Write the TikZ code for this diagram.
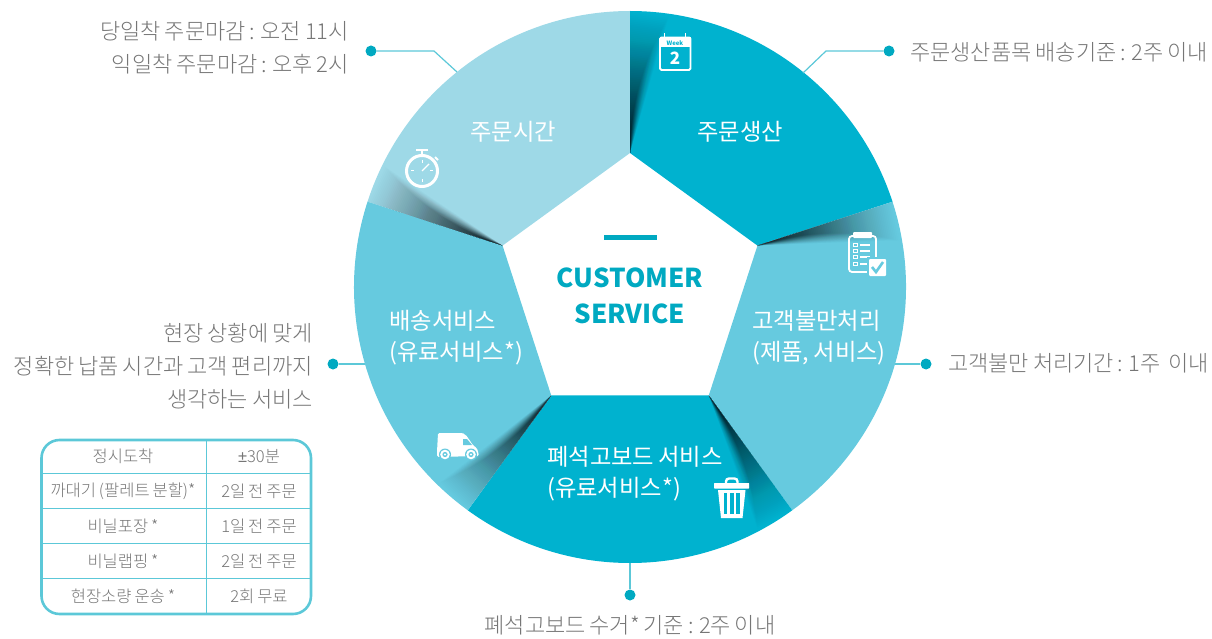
\documentclass[tikz,border=0pt]{standalone}
\usepackage{fontspec}
\usepackage{xcolor}
\usetikzlibrary{calc}
\newfontfamily\kr[WordSpace=0.8]{Noto Sans CJK KR}
\newfontfamily\krthin[WordSpace=0.8]{Noto Sans CJK KR Light}
\newfontfamily\plusfont{Liberation Sans}
\definecolor{tealdark}{HTML}{00B2CF}
\definecolor{tealmid}{HTML}{66CADF}
\definecolor{teallight}{HTML}{9ED9E7}
\definecolor{tealline}{HTML}{5CC8D8}
\definecolor{tealdot}{HTML}{00A9C1}
\definecolor{txtgray}{HTML}{767676}
\definecolor{shadecol}{HTML}{1A2327}
\newcommand{\wedgeseg}[3]{\fill[#3] ([shift={(#1:134)}]o) -- ([shift={(#1:276)}]o) arc[start angle=#1,end angle=#2,radius=276] -- ([shift={(#2:134)}]o) -- cycle;}
\newcommand{\fanshade}[1]{\foreach \t [evaluate=\t as \op using {.045*(1-\t/92)}] in {1,...,80}{\fill[shadecol,opacity=\op] ([shift={(#1:134)}]o) -- +(#1:\t*1.78) -- +(#1+\t*.2:\t*1.78) -- cycle;}}
\tikzset{
  lead/.style={tealline,line width=1.2pt},
  leaddot/.style={circle,fill=tealdot,minimum size=11pt,inner sep=0pt},
  sidetxt/.style={font=\krthin\fontsize{22}{33}\selectfont,text=txtgray,inner sep=0pt},
  segtxt/.style={font=\kr\fontsize{23.3}{30.5}\selectfont,text=white,inner sep=0pt,align=left},
  celltxt/.style={font=\krthin\fontsize{16.5}{18}\selectfont,text=txtgray,inner sep=0pt},
  icon/.style={white,line width=2.4pt},
}
\begin{document}
\begin{tikzpicture}[x=1pt,y=-1pt]
\useasboundingbox (0,0) rectangle (1212,639);
\coordinate (o) at (630,287);
%segments
\wedgeseg{-162}{-90}{teallight}
\wedgeseg{-90}{-18}{tealdark}
\wedgeseg{-18}{54}{tealmid}
\wedgeseg{54}{126}{tealdark}
\wedgeseg{126}{198}{tealmid}
%shadows
\fanshade{-162}
\fanshade{-90}
\fanshade{-18}
\fanshade{54}
\fanshade{126}
%centre
\fill[tealdot] (604,235) rectangle (657,240);
\node[font=\kr\bfseries\fontsize{26}{36}\selectfont,text=tealdot,align=center,inner sep=0pt] (title) at (630,295.5) {CUSTOMER\\SERVICE};
%segment labels
\node[segtxt] (timeseg) at (513,132) {주문시간};
\node[segtxt] (makeseg) at (740,132) {주문생산};
\node[segtxt,anchor=west] (shipseg) at (389,337.5) {배송서비스\\(유료서비스*)};
\node[segtxt,anchor=west] (claimseg) at (752,337.5) {고객불만처리\\(제품, 서비스)};
\node[segtxt,anchor=west] (wasteseg) at (547,473.5) {폐석고보드 서비스\\(유료서비스*)};
%side labels
\node[sidetxt,anchor=east,align=right] (timetxt) at (349,48) {당일착 주문마감 : 오전 11시\\익일착 주문마감 : 오후 2시};
\node[sidetxt,anchor=west] (maketxt) at (910,52) {주문생산품목 배송기준 : 2주 이내};
\node[sidetxt,anchor=west] (claimtxt) at (948,363) {고객불만 처리기간 : 1주~ 이내};
\node[sidetxt] (wastetxt) at (630,625) {폐석고보드 수거* 기준 : 2주 이내};
\node[sidetxt,anchor=east,align=right] (shiptxt) at (313,366.5) {현장 상황에 맞게\\정확한 납품 시간과 고객 편리까지\\생각하는 서비스};
%leader lines
\node[leaddot] (timedot) at (371,51) {};
\node[leaddot] (makedot) at (889,51) {};
\node[leaddot] (claimdot) at (926,364) {};
\node[leaddot] (wastedot) at (630,595) {};
\node[leaddot] (shipdot) at (333,364) {};
\coordinate (timeend) at (457,72);
\coordinate (makeend) at (803,73);
\coordinate (claimend) at (895,364);
\coordinate (wasteend) at (630,563);
\coordinate (shipend) at (365,364);
\draw[lead] (timedot) -- (434,51) -- (timeend);
\draw[lead] (makedot) -- (826,51) -- (makeend);
\draw[lead] (claimdot) -- (claimend);
\draw[lead] (wastedot) -- (wasteend);
\draw[lead] (shipdot) -- (shipend);
%table
\draw[tealline,line width=1pt] (206,440) -- (206,614);
\foreach \y in {473,508,543,578}
  \draw[tealline,line width=1pt] (41,\y) -- (311,\y);
\draw[tealline,line width=2.6pt,rounded corners=18pt] (41.5,440) rectangle (311,614);
\node[celltxt] (ca) at (123,456.5) {정시도착};
\node[celltxt] (cb) at (123,491) {까대기 (팔레트 분할)*};
\node[celltxt] (cc) at (123,526) {비닐포장 *};
\node[celltxt] (cd) at (123,561) {비닐랩핑 *};
\node[celltxt] (ce) at (123,596) {현장소량 운송 *};
\node[celltxt] (da) at (259,456.5) {{\plusfont ±}30분};
\node[celltxt] (db) at (259,491) {2일 전 주문};
\node[celltxt] (dc) at (259,526) {1일 전 주문};
\node[celltxt] (dd) at (259,561) {2일 전 주문};
\node[celltxt] (de) at (259,596) {2회 무료};
%stopwatch
\draw[icon,line width=3pt] (422,171) circle (15.5);
\draw[icon,line width=2pt] (422,151) -- (422,155);
\draw[icon] (416,150) -- (428,150);
\draw[icon,line width=2pt] (435,157) -- (438,160);
\draw[icon,line width=1.4pt] (422,171) -- (429,164);
\draw[icon,line width=1pt] (422,160) -- (422,163) (422,179) -- (422,182) (411,171) -- (414,171) (430,171) -- (433,171);
%calendar
\draw[icon,line width=1.8pt,rounded corners=1.5pt] (660,37.5) rectangle (690.5,70);
\fill[white] (660,37.5) rectangle (690.5,47);
\draw[icon,line width=1.4pt] (664.5,33.5) -- (664.5,40) (685.5,33.5) -- (685.5,40);
\node[font=\kr\bfseries\fontsize{6}{6}\selectfont,text=tealdark,inner sep=0pt] (weeklbl) at (675,43) {Week};
\node[font=\kr\bfseries\fontsize{17}{17}\selectfont,text=white,inner sep=0pt] (weeknum) at (675,58) {2};
%clipboard
\draw[icon,line width=1.8pt,rounded corners=3pt] (849,236) rectangle (876,272);
\fill[white,rounded corners=1pt] (853,232) rectangle (872,238);
\foreach \y in {245,251,257,264}{
  \draw[white,line width=1pt] (853,\y-1.5) rectangle (857,\y+1.5);
  \draw[white,line width=1.2pt] (860,\y) -- (870,\y);
}
\fill[tealmid] (867,257) rectangle (888,278);
\fill[white,rounded corners=1pt] (869,259) rectangle (886,276);
\draw[tealmid,line width=2.6pt] (872,267) -- (876,272) -- (883,262);
%van
\fill[white,rounded corners=1.5pt] (437,452) -- (438,433) -- (462,433) .. controls (468,435) and (471,445) .. (477,448) -- (479,456) -- (437,457) -- cycle;
\fill[tealmid] (463,439) -- (467,439) -- (472,445) -- (463,445) -- cycle;
\foreach \x in {445,471}{
  \fill[tealmid] (\x,454.5) circle (6);
  \fill[white] (\x,454.5) circle (4.8);
  \fill[tealmid] (\x,454.5) circle (2.6);
  \fill[white] (\x,454.5) circle (1.2);
}
%trash
\fill[white,rounded corners=.5pt] (714,483) rectangle (749,488.5);
\draw[icon,line width=2.4pt,rounded corners=3pt] (726,484) -- (726,478.5) -- (737.5,478.5) -- (737.5,484);
\fill[white] (718,490) -- (745.5,490) -- (742.5,518) -- (721,518) -- cycle;
\foreach \x in {725.5,731.8,738}
  \fill[tealdark] (\x-1.7,493) rectangle (\x+1.7,514);
\end{tikzpicture}
\end{document}
